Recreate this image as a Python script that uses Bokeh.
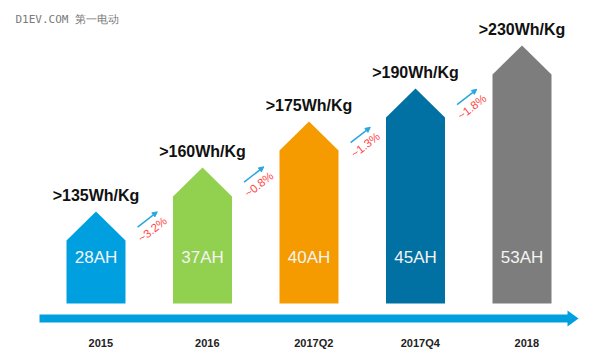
import math
from bokeh.plotting import figure
from bokeh.models import Range1d, Arrow, NormalHead, ColumnDataSource
from bokeh.core.properties import value
from bokeh.embed import file_html
from bokeh.resources import INLINE

# ---- data ----
periods = ["2015", "2016", "2017Q2", "2017Q4", "2018"]
energy_density = [135, 160, 175, 190, 230]          # Wh/Kg
capacity_ah = [28, 37, 40, 45, 53]                   # AH
bar_level = [63, 107, 153, 186, 229]                 # visual bar height (arbitrary units)
weight_change = ["3.2", "0.8", "1.3", "1.8"]         # % between periods
colors = ["#00a0e0", "#92d050", "#f59b00", "#0071a2", "#7d7d7d"]

# ---- layout constants ----
PX = 106.5            # pixels per category step
BAR_W = 59 / PX
APEX = 29
FONT = value("Liberation Sans")

p = figure(width=600, height=360, output_backend="svg", toolbar_location=None,
           x_range=Range1d(-95.5 / PX, 504.5 / PX), y_range=Range1d(-57, 303),
           min_border=0, outline_line_color=None, background_fill_color="white")
p.xaxis.visible = False
p.yaxis.visible = False
p.grid.visible = False

idx = list(range(len(periods)))

# house-shaped bars
xs, ys = [], []
for i, h in zip(idx, bar_level):
    xs.append([i - BAR_W / 2, i - BAR_W / 2, i, i + BAR_W / 2, i + BAR_W / 2])
    ys.append([0, h, h + APEX, h, 0])
p.patches(xs, ys, fill_color=colors, line_color=None)

# header labels
p.text(x=idx, y=[h + APEX + 16 for h in bar_level],
       text=[f">{e}Wh/Kg" for e in energy_density],
       text_font=FONT, text_font_style="bold", text_font_size="16px",
       text_color="#111111", text_align="center", text_baseline="middle")

# capacity labels inside bars
p.text(x=idx, y=[46] * len(idx), text=[f"{c}AH" for c in capacity_ah],
       text_font=FONT, text_font_size="17px", text_color="#f4f4f4",
       text_align="center", text_baseline="middle")

# timeline arrow
ty, bh, hh = -15, 4, 8
x0, xt = (39 - 95.5) / PX, (578 - 95.5) / PX
xh = xt - 11 / PX
p.patch([x0, xh, xh, xt, xh, xh, x0],
        [ty + bh, ty + bh, ty + hh, ty, ty - hh, ty - bh, ty - bh],
        fill_color="#00a0e0", line_color=None)

# period labels
p.text(x=[i + 0.045 for i in idx], y=[-39] * len(idx), text=periods,
       text_font=FONT, text_font_style="bold", text_font_size="11px",
       text_color="#222222", text_align="center", text_baseline="middle")

# change annotations between bars
ang = math.radians(38)
tx, tyv, ax0, ay0, ax1, ay1 = [], [], [], [], [], []
for i in range(len(weight_change)):
    cx = i + 0.53
    cy = (bar_level[i] + bar_level[i + 1]) / 2 - 11
    tx.append(cx)
    tyv.append(cy)
    acx = cx - 5 / PX
    acy = cy + 10
    dx = 12.5 * math.cos(ang) / PX
    dy = 12.5 * math.sin(ang)
    ax0.append(acx - dx); ay0.append(acy - dy)
    ax1.append(acx + dx); ay1.append(acy + dy)

p.text(x=tx, y=tyv, text=[f"~{w}%" for w in weight_change], angle=ang,
       text_font=FONT, text_font_size="11.5px", text_color="#ff4545",
       text_align="center", text_baseline="middle")

asrc = ColumnDataSource(dict(x0=ax0, y0=ay0, x1=ax1, y1=ay1))
p.add_layout(Arrow(source=asrc, x_start="x0", y_start="y0", x_end="x1", y_end="y1",
                   line_color="#2aa6df", line_width=1.5,
                   end=NormalHead(size=5, fill_color="#2aa6df", line_color="#2aa6df")))

# watermark
p.text(x=[(15 - 95.5) / PX], y=[284], text=["D1EV.COM 第一电动"],
       text_font=value("DejaVu Sans Mono"), text_font_size="11px",
       text_color="#7a7a7a", text_align="left", text_baseline="middle")

open("out.html", "w").write(file_html(p, INLINE))
